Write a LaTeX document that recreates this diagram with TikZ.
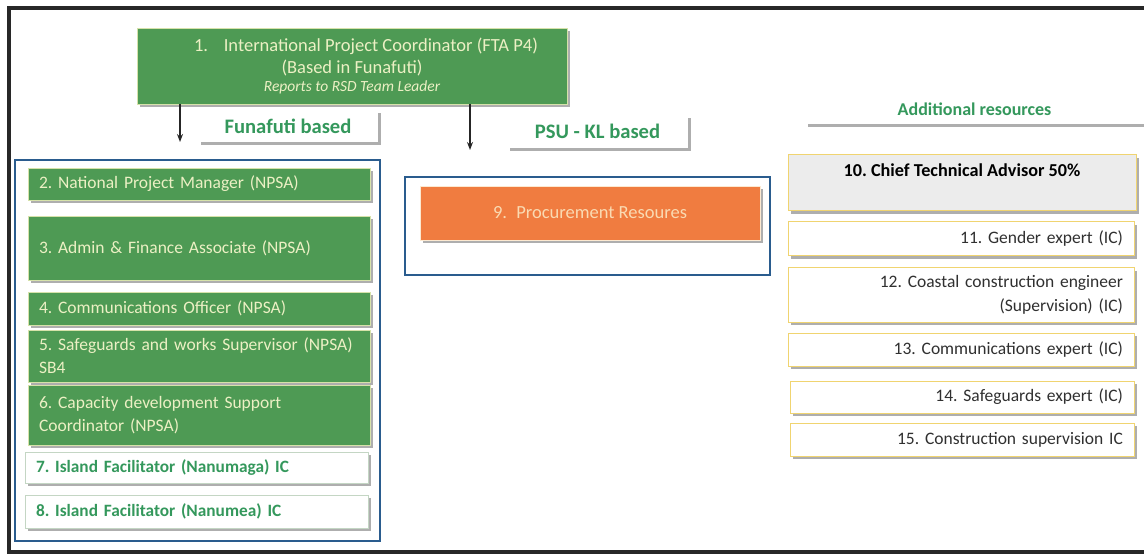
\documentclass[tikz,border=0pt]{standalone}
\usepackage{fontspec}
\setmainfont{Carlito}
\usetikzlibrary{shadows,arrows.meta}
\definecolor{boxgreen}{RGB}{78,154,84}
\definecolor{paletext}{RGB}{236,240,196}
\definecolor{greenedge}{RGB}{214,226,170}
\definecolor{orangefill}{RGB}{240,124,64}
\definecolor{orangetext}{RGB}{250,218,178}
\definecolor{frameblue}{RGB}{42,92,142}
\definecolor{labgreen}{RGB}{52,152,92}
\definecolor{yedge}{RGB}{240,212,112}
\definecolor{lightgray}{RGB}{236,236,236}
\definecolor{darktext}{RGB}{48,48,48}
\definecolor{wedge}{RGB}{196,214,196}
\definecolor{outer}{RGB}{40,40,40}
\begin{document}
\frenchspacing
\begin{tikzpicture}[x=1pt,y=-1pt,
  shad/.style={drop shadow={shadow xshift=2.5pt,shadow yshift=-3pt,opacity=0.45,fill=black!70}},
  gbox/.style={shad,rectangle,fill=boxgreen,draw=greenedge,line width=0.8pt,text=paletext,
    font=\fontsize{17.5}{23}\selectfont,align=left,inner xsep=11pt,inner ysep=2pt},
  wbox/.style={shad,rectangle,fill=white,draw=wedge,line width=1pt,text=labgreen,
    font=\bfseries\fontsize{17.3}{22}\selectfont,align=left,inner xsep=11pt,inner ysep=2pt},
  ybox/.style={shad,rectangle,fill=white,draw=yedge,line width=1pt,text=darktext,
    font=\fontsize{17.5}{24}\selectfont,align=right,inner xsep=11pt,inner ysep=2pt},
  labbox/.style={shad,rectangle,fill=white,text=labgreen,font=\bfseries\fontsize{20.6}{24}\selectfont},
  bframe/.style={draw=frameblue,line width=2.2pt},
  arr/.style={-{Stealth[length=8pt,width=6pt]},line width=1.6pt,draw=black!85}
]
\useasboundingbox (0,0) rectangle (1144,556);
\fill[white] (0,0) rectangle (1144,556);
\draw[outer,line width=4.5pt] (9,8) rectangle (1148,552);

% top coordinator
\node[gbox,align=center,minimum width=430pt,minimum height=76pt,font=\fontsize{18.5}{21}\selectfont] (b1) at (352,66)
 {\hspace*{28pt}1.\hspace{0.85em}International Project Coordinator (FTA P4)\\[1pt]
  (Based in Funafuti)\\[-3pt]
  {\itshape\fontsize{15.5}{17}\selectfont Reports to RSD Team Leader}};

% labels
\node[labbox,minimum width=180pt,minimum height=32pt] (lf) at (288,126) {Funafuti based};
\node[labbox,minimum width=181pt,minimum height=33pt] (lp) at (597.5,131.5) {PSU - KL based};
\node[labbox,fill=white,minimum width=339pt,minimum height=30pt,font=\bfseries\fontsize{18}{20}\selectfont] (la) at (974.5,109) {Additional resources};

% arrows
\coordinate (a1) at (180,142);
\coordinate (a2) at (470,150);
\draw[arr] (b1.south -| a1) -- (a1);
\draw[arr] (b1.south -| a2) -- (a2);

% frames
\draw[bframe] (15,160) rectangle (380,541);
\draw[bframe] (405,177) rectangle (770,275);

% Funafuti based staff
\node[gbox,minimum width=342pt,minimum height=32pt,text width=320pt] (b2) at (199,184) {2. National Project Manager (NPSA)};
\node[gbox,minimum width=342pt,minimum height=64pt,text width=320pt] (b3) at (199,248) {3. Admin \& Finance Associate (NPSA)};
\node[gbox,minimum width=342pt,minimum height=33pt,text width=320pt] (b4) at (199,308.5) {4. Communications Officer (NPSA)};
\node[gbox,minimum width=342pt,minimum height=52pt,text width=320pt] (b5) at (199,356) {5. Safeguards and works Supervisor (NPSA)\\SB4};
\node[gbox,minimum width=342pt,minimum height=60pt,text width=320pt] (b6) at (199,415) {6. Capacity development Support\\Coordinator (NPSA)};
\node[wbox,minimum width=343pt,minimum height=31pt,text width=321pt] (b7) at (196.5,467.5) {7. Island Facilitator (Nanumaga) IC};
\node[wbox,minimum width=343pt,minimum height=33pt,text width=321pt] (b8) at (196.5,511.5) {8. Island Facilitator (Nanumea) IC};

% PSU
\node[gbox,fill=orangefill,draw=orangetext!60!white,text=orangetext,align=center,font=\fontsize{18.5}{22}\selectfont,minimum width=340pt,minimum height=54pt] (b9) at (590,213) {9.\hspace{0.5em}Procurement Resoures};

% additional resources
\node[ybox,fill=lightgray,align=center,text=black,font=\bfseries\fontsize{18.2}{22}\selectfont,minimum width=348pt,minimum height=56pt,text depth=26pt] (b10) at (962,183) {10. Chief Technical Advisor 50\%};
\node[ybox,minimum width=346pt,minimum height=34pt,text width=324pt] (b11) at (961,239) {11. Gender expert (IC)};
\node[ybox,minimum width=346pt,minimum height=54pt,text width=324pt] (b12) at (961,295) {12. Coastal construction engineer\\(Supervision) (IC)};
\node[ybox,minimum width=346pt,minimum height=33pt,text width=324pt] (b13) at (961,349.5) {13. Communications expert (IC)};
\node[ybox,minimum width=344pt,minimum height=32pt,text width=322pt] (b14) at (962,397) {14. Safeguards expert (IC)};
\node[ybox,minimum width=344pt,minimum height=33pt,text width=322pt] (b15) at (962,439.5) {15. Construction supervision IC};
\end{tikzpicture}
\end{document}
